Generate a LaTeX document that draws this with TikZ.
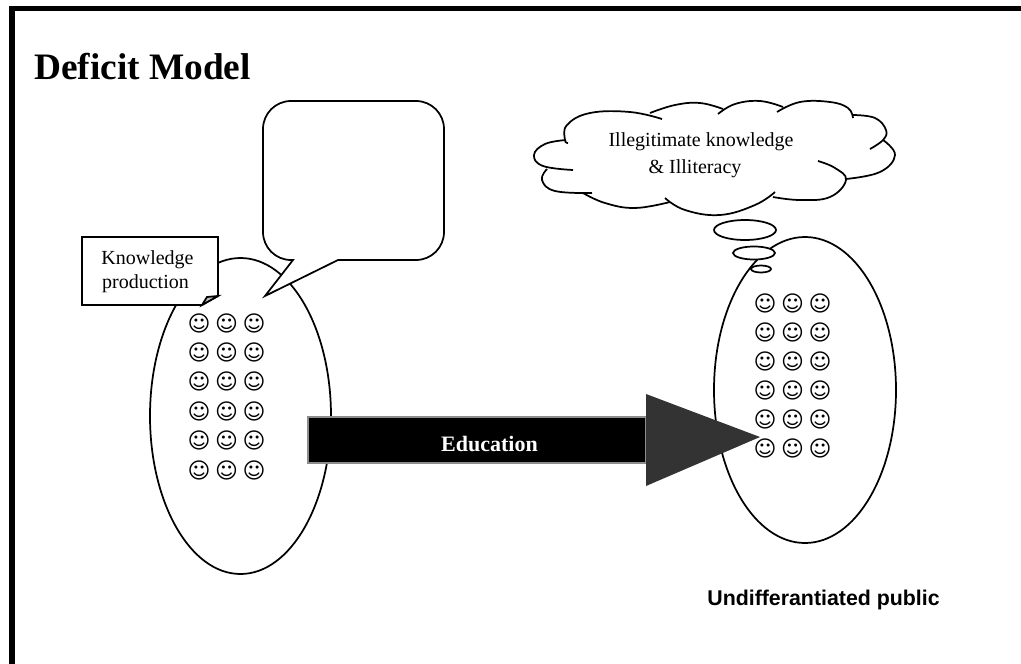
\documentclass[tikz,border=0pt]{standalone}
\usepackage{fontspec}
\setmainfont{Liberation Serif}
\newfontfamily\labelsans{Liberation Sans}
\newfontfamily\facefont{DejaVu Sans}
\usetikzlibrary{calc}
\tikzset{
	outline/.style={draw=black, line width=1.3pt, fill=white},
	face/.style={inner sep=0pt, font=\facefont\fontsize{16.5}{18}\selectfont},
	plain/.style={inner sep=0pt, anchor=base, font=\fontsize{15}{18}\selectfont},
	lobe/.style={line width=1.3pt, smooth, tension=0.7},
}
\begin{document}
\begin{tikzpicture}[x=0.75pt, y=-0.75pt]
	\useasboundingbox (0,0) rectangle (1021,664);
	% frame
	\fill (9,6) rectangle (1021,11);
	\fill (9,6) rectangle (15,664);
	\node (title) [plain, anchor=base west, font=\bfseries\fontsize{28}{32}\selectfont] at (34,79) {Deficit Model};

	% the two groups
	\draw [outline] (240.5,416) ellipse (90.5 and 158);
	\draw [outline] (805,390) ellipse (91 and 153);
	\foreach \i in {0,1,...,5}{
		\foreach \j in {0,1,2}{
			\node (leftface\i\j) [face] at (199+27.5*\j,323+29.4*\i) {☺};
			\node (rightface\i\j) [face] at (765+27.5*\j,303+29*\i) {☺};
		}
	}

	% speech bubble
	\draw [outline, line join=miter]
		(293,260) -- (265,296) -- (338,260) -- (416,260)
		arc (90:0:28) -- (444,129) arc (0:-90:28) -- (291,101)
		arc (-90:-180:28) -- (263,232) arc (180:90:28) -- cycle;

	% note with folded corner
	\draw [outline, line join=miter] (82,237) -- (218,237) -- (218,296) -- (202,305) -- (82,305) -- cycle;
	\draw [line width=1.3pt, fill=black!25, line join=miter] (202,305) -- (207,297) -- (218,296) -- cycle;
	\node (know) [plain] at (147.5,264) {Knowledge};
	\node (prod) [plain] at (145.5,288) {production};

	% cloud
	\draw [lobe] plot coordinates {(566,140) (545,144) (534,155) (543,166) (573,170)};
	\draw [lobe] plot coordinates {(547,169) (542,180) (555,191) (592,193)};
	\draw [lobe] plot coordinates {(583,193) (605,203) (635,208) (670,202)};
	\draw [lobe] plot coordinates {(665,198) (685,210) (720,215) (755,205) (775,192)};
	\draw [lobe] plot coordinates {(773,197) (800,200) (830,197) (846,180) (835,168) (818,161)};
	\draw [lobe] plot coordinates {(846,179) (880,172) (895,155) (883,140)};
	\draw [lobe] plot coordinates {(870,149) (883,140) (886,130) (875,118) (853,115)};
	\draw [lobe] plot coordinates {(853,118) (848,108) (830,102) (800,102) (777,112)};
	\draw [lobe] plot coordinates {(783,107) (760,101) (735,104) (718,114)};
	\draw [lobe] plot coordinates {(723,109) (700,103) (675,105) (650,113)};
	\draw [lobe] plot coordinates {(662,119) (630,112) (590,113) (567,125) (565,140) (568,143)};
	\node (illeg) [plain] at (701,146) {Illegitimate knowledge};
	\node (illit) [plain] at (695,173) {\& Illiteracy};

	% thought bubbles
	\draw [outline] (745,230) ellipse (31 and 10);
	\draw [outline] (754,253) ellipse (21 and 6.5);
	\draw [outline] (761,269) ellipse (10 and 3.5);

	% arrow
	\fill [black, draw=black!45, line width=0.8pt] (308,417) rectangle (646,463);
	\fill [black!80] (646,394) -- (760,437) -- (646,486) -- cycle;
	\node (educ) [plain, text=white, font=\bfseries\fontsize{16.5}{18}\selectfont] at (489.5,451) {Education};

	\node (public) [plain, font=\labelsans\bfseries\fontsize{16}{20}\selectfont] at (823.5,605) {Undifferantiated public};
\end{tikzpicture}
\end{document}
